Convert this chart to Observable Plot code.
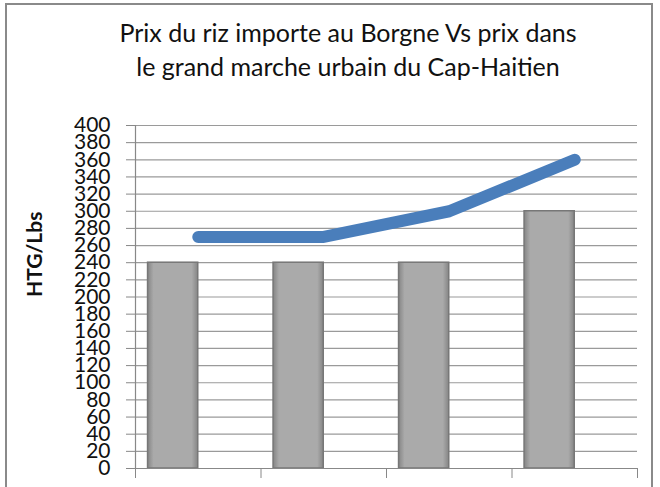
<!DOCTYPE html>
<html>
<head>
<meta charset="utf-8">
<script src="https://cdn.jsdelivr.net/npm/d3@7"></script>
<script src="https://cdn.jsdelivr.net/npm/@observablehq/plot@0.6"></script>
<style>
  html, body { margin: 0; padding: 0; background: #fff; }
  #wrap { position: relative; width: 660px; height: 487px; overflow: hidden; font-family: Lato, "Open Sans", sans-serif; }
  #border { position: absolute; left: 5px; top: 3px; width: 648px; height: 520px; border: 2px solid #8a8a8a; box-sizing: border-box; }
  #title { position: absolute; left: 0; width: 696px; top: 15px; text-align: center; font-size: 25px; line-height: 34px; color: #111; }
  #chart { position: absolute; left: 0; top: 0; }
</style>
</head>
<body>
<div id="wrap">
  <div id="border"></div>
  <div id="chart"></div>
  <div id="title">Prix du riz importe au Borgne Vs prix dans<br>le grand marche urbain du Cap-Haitien</div>
</div>
<script>
// Data
const categories = ["1", "2", "3", "4"];
const borgnePrices = [240, 240, 240, 300];      // bars: imported rice price in Borgne
const capHaitienPrices = [270, 270, 300, 360];  // line: Cap-Haitien urban market price
const yTicks = d3.range(0, 401, 20);
const yLabel = "HTG/Lbs";

const rows = categories.map((c, i) => ({i, c, borgne: borgnePrices[i], cap: capHaitienPrices[i]}));

const svg = Plot.plot({
  width: 660,
  height: 487,
  marginLeft: 135,
  marginRight: 23,
  marginTop: 125,
  marginBottom: 19,
  style: {background: "transparent", fontFamily: "Lato, 'Open Sans', sans-serif"},
  x: {type: "linear", domain: [0, categories.length]},
  y: {domain: [0, 400]},
  marks: [
    Plot.ruleY(yTicks, {stroke: "#9a9a9a", strokeWidth: 1.2}),
    Plot.rectY(rows, {x1: d => d.i + 0.1, x2: d => d.i + 0.5, y: "borgne", fill: "url(#barGrad)", stroke: "#777", strokeWidth: 1.5}),
    Plot.line(rows, {x: d => d.i + 0.5, y: "cap", stroke: "#4a7ebb", strokeWidth: 12, strokeLinecap: "round", strokeLinejoin: "round", curve: "linear"}),
    Plot.ruleX([0], {stroke: "#888", strokeWidth: 1.2}),
    Plot.ruleY([0], {stroke: "#888", strokeWidth: 1.2}),
    Plot.axisY({ticks: yTicks, tickSize: 9, tickPadding: 16, fontSize: 21, label: null, stroke: "#888", fill: "#111"}),
    Plot.axisX({ticks: d3.range(0, categories.length + 1), tickFormat: () => "", tickSize: 10, stroke: "#888", label: null}),
    Plot.text([yLabel], {frameAnchor: "left", dx: -100, rotate: -90, fontSize: 21, fontWeight: "bold", fill: "#111"})
  ]
});

const defs = d3.select(svg).insert("defs", ":first-child");
const g = defs.append("linearGradient").attr("id", "barGrad").attr("x1", "0").attr("x2", "1").attr("y1", "0").attr("y2", "0");
g.append("stop").attr("offset", "0%").attr("stop-color", "#858585");
g.append("stop").attr("offset", "12%").attr("stop-color", "#aaaaaa");
g.append("stop").attr("offset", "88%").attr("stop-color", "#aaaaaa");
g.append("stop").attr("offset", "100%").attr("stop-color", "#858585");

document.getElementById("chart").appendChild(svg);
</script>
</body>
</html>
